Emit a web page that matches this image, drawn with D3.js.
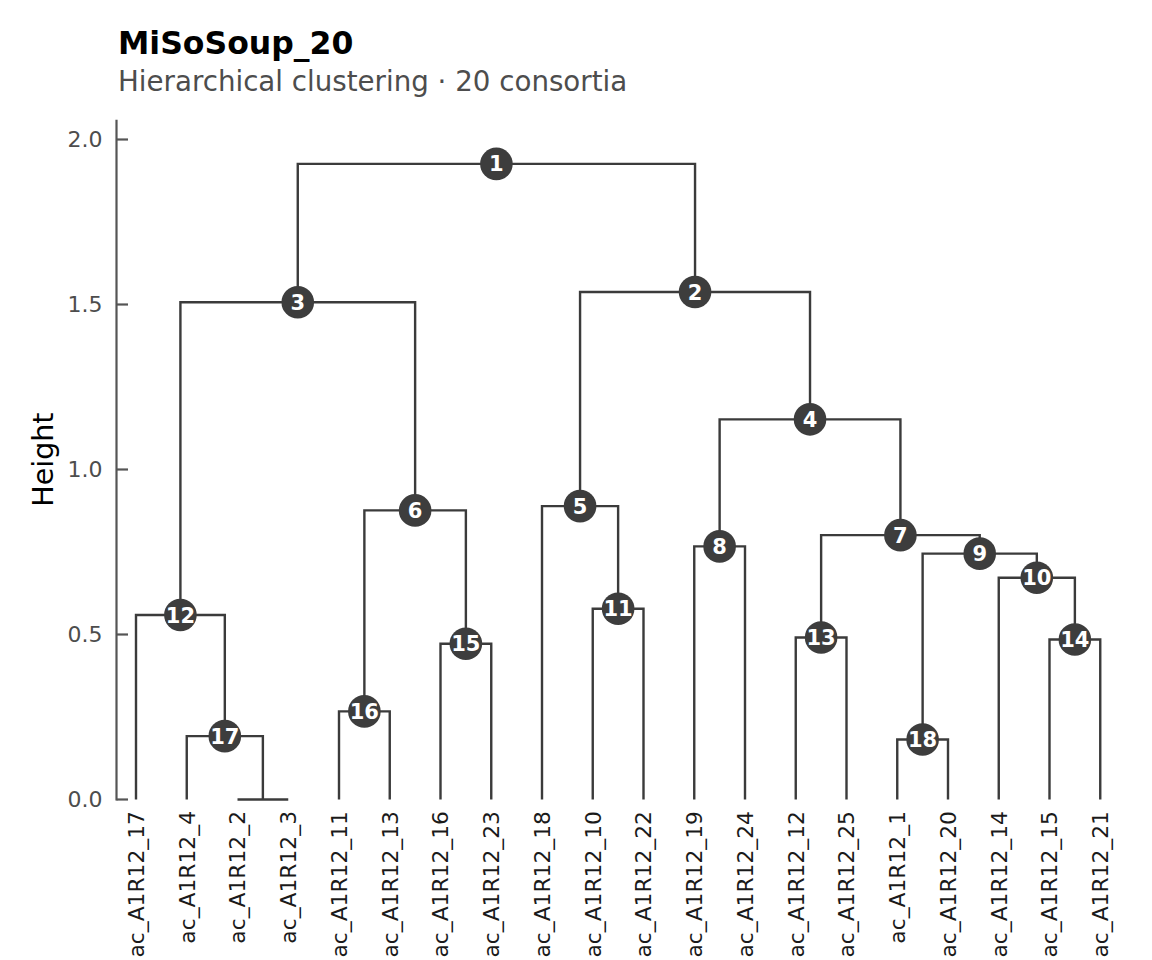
<!DOCTYPE html>
<html>
<head>
<meta charset="utf-8">
<script src="https://cdn.jsdelivr.net/npm/d3@7"></script>
<style>
  html, body { margin: 0; padding: 0; background: #ffffff; }
  svg { display: block; font-family: "DejaVu Sans", sans-serif; }
</style>
</head>
<body>
<svg id="chart" width="1152" height="960"></svg>
<script>
// ---- data ----
const chartTitle = "MiSoSoup_20";
const chartSubtitle = "Hierarchical clustering \u00b7 20 consortia";
const yAxisTitle = "Height";

// leaves in dendrogram order (index 1..20, referenced as negative numbers below)
const leaves = [
  "ac_A1R12_17", "ac_A1R12_4", "ac_A1R12_2", "ac_A1R12_3", "ac_A1R12_11",
  "ac_A1R12_13", "ac_A1R12_16", "ac_A1R12_23", "ac_A1R12_18", "ac_A1R12_10",
  "ac_A1R12_22", "ac_A1R12_19", "ac_A1R12_24", "ac_A1R12_12", "ac_A1R12_25",
  "ac_A1R12_1", "ac_A1R12_20", "ac_A1R12_14", "ac_A1R12_15", "ac_A1R12_21"
];

// merge nodes: id, left child, right child (negative = leaf index, positive = node id), height
const nodeIds     = [1, 2, 3, 4, 5, 6, 7, 8, 9, 10, 11, 12, 13, 14, 15, 16, 17, 18, 19];
const nodeLeft    = [3, 5, 12, 8, -9, 16, 13, -12, 18, -18, -10, -1, -14, -19, -7, -5, -2, -16, -3];
const nodeRight   = [2, 4, 6, 7, 11, 15, 9, -13, 10, 14, -11, 17, -15, -20, -8, -6, 19, -17, -4];
const nodeHeights = [1.926, 1.538, 1.507, 1.152, 0.889, 0.876, 0.801, 0.767, 0.745, 0.672,
                     0.578, 0.559, 0.491, 0.485, 0.472, 0.267, 0.192, 0.182, 0.0];

const yTicks = [0.0, 0.5, 1.0, 1.5, 2.0];

// ---- layout ----
const svg = d3.select("#chart");
const x = d3.scalePoint().domain(leaves).range([136, 1100.25]);
const y = d3.scaleLinear().domain([0, 2]).range([799.5, 139.5]);
const yTop = 2.06;

const lineColor = "#3b3b3b";
const nodeColor = "#3d3d3d";

// build node lookup
const nodes = new Map();
nodeIds.forEach((id, i) => nodes.set(id, { id, l: nodeLeft[i], r: nodeRight[i], h: nodeHeights[i] }));

function childPos(c) {
  if (c < 0) return { x: x(leaves[-c - 1]), h: 0 };
  const n = nodes.get(c);
  return { x: nodeX(n), h: n.h };
}
function nodeX(n) {
  if (n._x !== undefined) return n._x;
  const a = childPos(n.l), b = childPos(n.r);
  n._x = (a.x + b.x) / 2;
  return n._x;
}
nodes.forEach(n => nodeX(n));

// title & subtitle
svg.append("text").attr("x", 118).attr("y", 54)
  .attr("font-size", 31.5).attr("font-weight", "bold").attr("fill", "#000")
  .text(chartTitle);
svg.append("text").attr("x", 118).attr("y", 91)
  .attr("font-size", 27.7).attr("fill", "#4d4d4d")
  .text(chartSubtitle);

// y axis
const axisG = svg.append("g");
axisG.append("line")
  .attr("x1", 116.5).attr("x2", 116.5)
  .attr("y1", y(yTop)).attr("y2", y(0) + 1)
  .attr("stroke", "#555").attr("stroke-width", 2.2);
yTicks.forEach(t => {
  axisG.append("line")
    .attr("x1", 116.5).attr("x2", 128)
    .attr("y1", y(t)).attr("y2", y(t))
    .attr("stroke", "#555").attr("stroke-width", 2.2);
  axisG.append("text")
    .attr("x", 102.5).attr("y", y(t)).attr("dy", "0.36em")
    .attr("text-anchor", "end").attr("font-size", 22).attr("fill", "#4d4d4d")
    .text(d3.format(".1f")(t));
});
svg.append("text")
  .attr("transform", `translate(53,${(y(yTop) + y(0)) / 2}) rotate(-90)`)
  .attr("text-anchor", "middle").attr("font-size", 28.5).attr("fill", "#000")
  .text(yAxisTitle);

// branches
const branchG = svg.append("g").attr("fill", "none")
  .attr("stroke", lineColor).attr("stroke-width", 2.4).attr("stroke-linejoin", "miter");
nodes.forEach(n => {
  const a = childPos(n.l), b = childPos(n.r);
  const p = d3.path();
  p.moveTo(a.x, y(a.h));
  p.lineTo(a.x, y(n.h));
  p.lineTo(b.x, y(n.h));
  p.lineTo(b.x, y(b.h));
  branchG.append("path").attr("d", p.toString());
});

// node markers (only merges above zero height)
const markG = svg.append("g");
nodes.forEach(n => {
  if (n.h <= 0) return;
  markG.append("circle").attr("cx", n._x).attr("cy", y(n.h)).attr("r", 16.3).attr("fill", nodeColor);
  markG.append("text").attr("x", n._x).attr("y", y(n.h)).attr("dy", "0.36em")
    .attr("text-anchor", "middle").attr("font-size", 21).attr("font-weight", "bold")
    .attr("fill", "#fff").text(n.id);
});

// leaf labels
const labG = svg.append("g");
leaves.forEach(name => {
  labG.append("text")
    .attr("transform", `translate(${x(name)},811) rotate(-90)`)
    .attr("dy", "0.36em").attr("text-anchor", "end")
    .attr("font-size", 21.8).attr("fill", "#1a1a1a")
    .text(name);
});
</script>
</body>
</html>
